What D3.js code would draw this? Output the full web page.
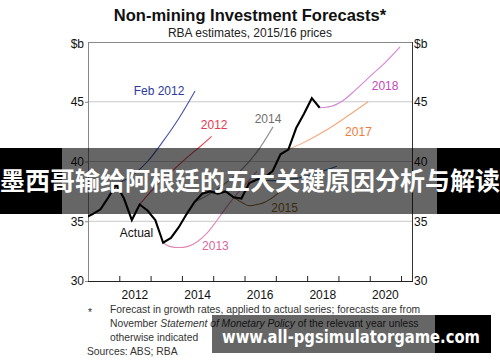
<!DOCTYPE html>
<html><head><meta charset="utf-8">
<script src="https://cdn.jsdelivr.net/npm/d3@7/dist/d3.min.js"></script>
<style>body{margin:0;background:#fff}svg{display:block;font-family:"Liberation Sans",Arial,sans-serif}</style>
</head><body>
<svg id="c" width="500" height="362"></svg>
<script>
// ---------- data ----------
const yTicks = [30, 35, 40, 45];
const xTickYears = [2012, 2013, 2014, 2015, 2016, 2017, 2018, 2019, 2020, 2021];
const xLabelYears = [2012, 2014, 2016, 2018, 2020];

const actualYears  = [2010.9,2011.15,2011.4,2011.65,2011.9,2012.15,2012.4,2012.65,2012.9,2013.15,2013.4,2013.65,2013.9,2014.15,2014.4,2014.65,2014.9,2015.15,2015.4,2015.65,2015.9,2016.15,2016.4,2016.65,2016.9,2017.15,2017.4,2017.65,2017.9,2018.15,2018.4];
const actualValues = [35.3,35.6,36.0,37.0,38.1,36.9,35.1,36.4,35.9,35.1,33.2,33.6,34.5,35.6,36.6,37.3,37.5,37.3,37.5,37.0,36.9,38.2,38.5,38.7,39.2,40.6,41.0,42.8,44.0,45.3,44.5];

const feb2012Years = [2011.9,2012.4,2012.9,2013.4,2013.9,2014.42];
const feb2012Values = [38.1,38.8,40.0,41.7,43.6,45.9];
const f2012Years = [2012.65,2013.15,2013.65,2014.15,2014.65,2014.95];
const f2012Values = [36.4,37.9,39.1,40.3,41.4,42.1];
const f2013Years = [2013.4,2013.6,2013.9,2014.2,2014.5,2014.8,2015.1,2015.4,2015.7,2016.0,2016.4];
const f2013Values = [33.2,32.9,32.8,32.9,33.3,34.0,35.0,36.1,37.1,38.0,39.2];
const f2014Years = [2014.4,2014.9,2015.4,2015.9,2016.4,2016.91];
const f2014Values = [36.6,37.3,38.2,39.3,40.8,42.9];
const f2015Years = [2015.4,2015.65,2015.9,2016.15,2016.4,2016.65,2016.9,2017.15];
const f2015Values = [37.5,37.0,36.6,36.3,36.4,36.6,37.0,37.5];
const f2016Years = [2016.4,2016.9,2017.4,2017.9,2018.4,2018.95];
const f2016Values = [38.5,38.4,38.5,38.7,39.1,39.6];
const f2017Years = [2017.4,2017.9,2018.4,2018.9,2019.4,2019.95];
const f2017Values = [41.0,41.6,42.3,43.1,44.0,45.0];
const f2018Years = [2018.4,2018.75,2019.15,2019.55,2020.0,2020.5,2020.97];
const f2018Values = [44.5,44.6,45.1,46.0,47.1,48.3,49.6];

const seriesNames = ["Feb 2012","2012","2013","2014","2015","2016","2017","2018"];
const seriesColors = ["#4450ae","#e8485c","#e287b4","#8f8f8f","#8c6d2a","#2f6fb0","#f6a67a","#d684d6"];
const labelColors  = ["#2e3a9e","#e8384f","#d9679f","#6f6f6f","#8c6d2a","#2f6fb0","#f07a3a","#c448b8"];
const labelYears  = [2013.27,2015.03,2015.07,2016.75,2017.28,2018.7,2019.64,2020.49];
const labelValues = [45.6,42.7,32.6,43.2,35.8,38.0,42.1,46.0];
const labelShow   = [1,1,1,1,1,0,1,1];

// ---------- layout ----------
const svg = d3.select("#c");
const L = 88, R = 412, T = 42, B = 281;
const x = d3.scaleLinear().domain([2011, 2021.35]).range([L, R]);
const y = d3.scaleLinear().domain([30, 50]).range([B, T]);

svg.append("defs").append("clipPath").attr("id","pc")
  .append("rect").attr("x",L).attr("y",T).attr("width",R-L).attr("height",B-T);

// title
svg.append("text").attr("x",250).attr("y",21).attr("text-anchor","middle")
  .attr("font-size",16.5).attr("font-weight","bold").attr("fill","#111").text("Non-mining Investment Forecasts*");
svg.append("text").attr("x",250).attr("y",37).attr("text-anchor","middle")
  .attr("font-size",12).attr("fill","#222").text("RBA estimates, 2015/16 prices");

// gridlines
svg.append("g").selectAll("line").data(yTicks.filter(d=>d>30)).join("line")
  .attr("x1",L).attr("x2",R).attr("y1",d=>y(d)).attr("y2",d=>y(d))
  .attr("stroke","#c8c8c8").attr("stroke-width",1);

// frame
svg.append("line").attr("x1",L).attr("x2",R).attr("y1",T+0.5).attr("y2",T+0.5).attr("stroke","#888");
svg.append("line").attr("x1",L+0.5).attr("x2",L+0.5).attr("y1",T).attr("y2",B).attr("stroke","#888");
svg.append("line").attr("x1",R+0.5).attr("x2",R+0.5).attr("y1",T).attr("y2",B).attr("stroke","#333");

// axes
const yl = d3.axisLeft(y).tickValues(yTicks).tickSize(3).tickFormat(d3.format("d"));
const yr = d3.axisRight(y).tickValues(yTicks).tickSize(0).tickFormat(d3.format("d"));
const gl = svg.append("g").attr("transform",`translate(${L},0)`).call(yl);
const gr = svg.append("g").attr("transform",`translate(${R},0)`).call(yr);
[gl,gr].forEach(g=>{g.select(".domain").remove();g.selectAll("text").attr("font-size",12).attr("fill","#111").attr("font-family","Liberation Sans, Arial, sans-serif");g.selectAll("line").attr("stroke","#888");});
gr.selectAll("text").attr("x",2);
gl.selectAll("text").attr("x",-4);
svg.append("text").attr("x",L-4).attr("y",T+6).attr("text-anchor","end").attr("font-size",12).attr("fill","#111").text("$b");
svg.append("text").attr("x",R+2).attr("y",T+6).attr("font-size",12).attr("fill","#111").text("$b");

const xa = d3.axisBottom(x).tickValues(xTickYears).tickSize(-5).tickFormat("");
const gx = svg.append("g").attr("transform",`translate(0,${B})`).call(xa);
gx.select(".domain").attr("stroke","#222").attr("d",`M${L},0.5H${R+1}`);
gx.selectAll("line").attr("stroke","#222");
svg.append("g").selectAll("text").data(xLabelYears).join("text")
  .attr("x",d=>x(d+0.5)).attr("y",B+18).attr("text-anchor","middle")
  .attr("font-size",12).attr("fill","#111").text(d=>d);

// lines
const line = d3.line().x(d=>x(d[0])).y(d=>y(d[1]));
const smooth = d3.line().x(d=>x(d[0])).y(d=>y(d[1])).curve(d3.curveMonotoneX);
const zip = (a,b)=>a.map((v,i)=>[v,b[i]]);
const fYears = [feb2012Years,f2012Years,f2013Years,f2014Years,f2015Years,f2016Years,f2017Years,f2018Years];
const fValues = [feb2012Values,f2012Values,f2013Values,f2014Values,f2015Values,f2016Values,f2017Values,f2018Values];
const pg = svg.append("g").attr("clip-path","url(#pc)");
fYears.forEach((ys,i)=>{
  pg.append("path").attr("d",smooth(zip(ys,fValues[i]))).attr("fill","none")
    .attr("stroke",seriesColors[i]).attr("stroke-width",1.1);
});
pg.append("path").attr("d",line(zip(actualYears,actualValues))).attr("fill","none")
  .attr("stroke","#000").attr("stroke-width",2.1).attr("stroke-linejoin","miter");

// series labels
const lg = svg.append("g").attr("font-size",12).attr("text-anchor","middle");
seriesNames.forEach((n,i)=>{
  if(!labelShow[i]) return;
  lg.append("text").attr("x",x(labelYears[i])).attr("y",y(labelValues[i]))
    .attr("fill",labelColors[i]).text(n);
});
lg.append("text").attr("x",x(2012.55)).attr("y",y(33.7)).attr("fill","#111").text("Actual");

// footnotes
const fn = svg.append("g").attr("font-size",10.3).attr("fill","#333");
fn.append("text").attr("x",88).attr("y",316).text("*");
fn.append("text").attr("x",110).attr("y",313).text("Forecast in growth rates, applied to actual series; forecasts are from");
const t2 = fn.append("text").attr("x",110).attr("y",327);
t2.append("tspan").text("November ");
t2.append("tspan").attr("font-style","italic").text("Statement of Monetary Policy");
t2.append("tspan").text(" of the relevant year unless");
fn.append("text").attr("x",110).attr("y",341).text("otherwise indicated");
fn.append("text").attr("x",87).attr("y",355).text("Sources:");
fn.append("text").attr("x",130).attr("y",355).text("ABS; RBA");

// overlay banner
svg.append("rect").attr("x",0).attr("y",148).attr("width",62).attr("height",66).attr("fill","#000");
svg.append("rect").attr("x",437).attr("y",148).attr("width",63).attr("height",66).attr("fill","#000");
svg.append("rect").attr("x",62).attr("y",148).attr("width",375).attr("height",66).attr("fill","rgba(0,0,0,0.6)");
svg.append("text").attr("x",250).attr("y",190).attr("text-anchor","middle")
  .attr("font-family","Noto Sans CJK SC").attr("font-weight","bold").attr("font-size",25)
  .attr("fill","#fff").attr("textLength",500).attr("lengthAdjust","spacingAndGlyphs")
  .text("墨西哥输给阿根廷的五大关键原因分析与解读");

// bottom watermark
svg.append("rect").attr("x",212).attr("y",315).attr("width",223).attr("height",38).attr("fill","rgba(0,0,0,0.6)");
svg.append("rect").attr("x",435).attr("y",315).attr("width",56).attr("height",38).attr("fill","#000");
svg.append("text").attr("x",222).attr("y",343).attr("font-family","DejaVu Sans").attr("font-weight","bold")
  .attr("font-size",18).attr("fill","#fff").attr("textLength",258).attr("lengthAdjust","spacingAndGlyphs")
  .text("www.all-pgsimulatorgame.com");
</script>
</body></html>
